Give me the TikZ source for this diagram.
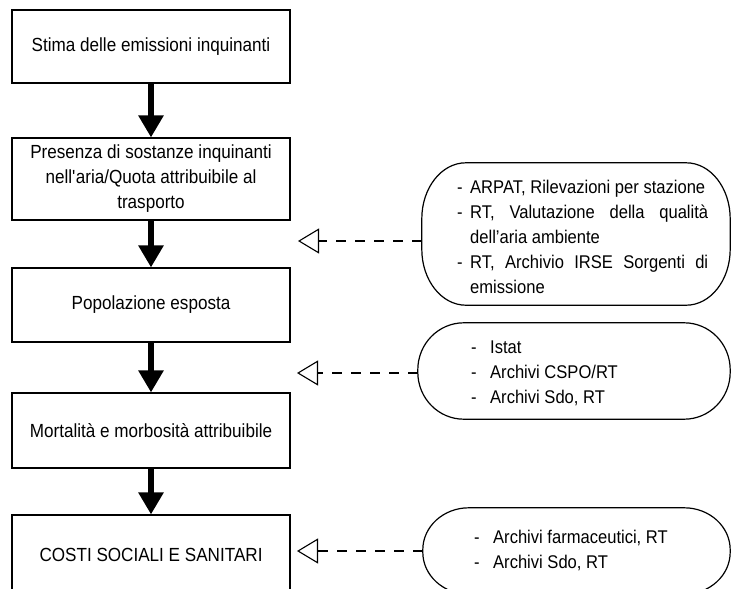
\documentclass[tikz,border=0pt]{standalone}
\usepackage{fontspec}
\setmainfont{Liberation Sans}[FakeStretch=0.9]
\usetikzlibrary{arrows.meta}
\newcommand{\drawbubble}[3]{%
  \draw[bubbleline] ([xshift=#2]#1.north west) -- ([xshift=-#2]#1.north east)
    arc[start angle=90,end angle=0,x radius=#2,y radius=#3]
    -- ([yshift=#3]#1.south east)
    arc[start angle=0,end angle=-90,x radius=#2,y radius=#3]
    -- ([xshift=#2]#1.south west)
    arc[start angle=270,end angle=180,x radius=#2,y radius=#3]
    -- ([yshift=-#3]#1.north west)
    arc[start angle=180,end angle=90,x radius=#2,y radius=#3] -- cycle;}
\newcommand{\bitemA}[1]{\makebox[13pt][l]{-}#1}
\newcommand{\bitemS}[1]{\makebox[13pt][l]{-}\makebox[238pt][s]{#1}}
\newcommand{\bitemC}[1]{\hspace*{13pt}#1}
\newcommand{\bitemB}[1]{\makebox[19pt][l]{-}#1}
\begin{document}
\begin{tikzpicture}[x=1pt,y=1pt,
  flowbox/.style={draw, line width=1.1pt, rectangle, minimum width=278pt, inner sep=0pt,
    align=center, font={\fontsize{19}{25}\selectfont}},
  bubblebox/.style={rectangle, inner sep=0pt},
  bubbleline/.style={line width=1.2pt},
  bubbletext/.style={anchor=west, align=left, inner sep=0pt, font={\fontsize{18.4}{25}\selectfont}},
  bigarrow/.style={line width=6pt, -{Triangle[length=22pt,width=24pt]}},
  dasharrow/.style={line width=1.1pt, dash pattern=on 10pt off 9pt,
    -{Triangle[open,length=21pt,width=25pt,line width=1.1pt]}}]
\useasboundingbox (0,0) rectangle (732,-589);
\clip (0,0) rectangle (732,-589);

% main boxes
\node[flowbox, minimum height=73pt] (n1) at (151,-46.5) {Stima delle emissioni inquinanti};
\node[flowbox, minimum height=82pt] (n2) at (151,-179) {Presenza di sostanze inquinanti\\nell\textquotesingle aria/Quota attribuibile al\\trasporto};
\node[flowbox, minimum height=74pt] (n3) at (151,-305) {Popolazione esposta};
\node[flowbox, minimum height=75pt] (n4) at (151,-430.5) {Mortalità e morbosità attribuibile};
\node[flowbox, minimum height=80pt] (n5) at (151,-555) {COSTI SOCIALI E SANITARI};

\draw[bigarrow] (n1.south) -- (n2.north);
\draw[bigarrow] (n2.south) -- (n3.north);
\draw[bigarrow] (n3.south) -- (n4.north);
\draw[bigarrow] (n4.south) -- (n5.north);

% bubbles
\node[bubblebox, minimum width=308pt, minimum height=142pt] (b1) at (576,-234) {};
\drawbubble{b1}{44pt}{56pt}
\node[bubbletext] (b1t) at (457,-237) {\bitemA{ARPAT, Rilevazioni per stazione}\\
  \bitemS{RT, Valutazione della qualità}\\
  \bitemC{dell’aria ambiente}\\
  \bitemS{RT, Archivio IRSE Sorgenti di}\\
  \bitemC{emissione}};

\node[bubblebox, minimum width=312pt, minimum height=96pt] (b2) at (574,-371) {};
\drawbubble{b2}{46pt}{47pt}
\node[bubbletext] (b2t) at (471,-373) {\bitemB{Istat}\\ \bitemB{Archivi CSPO/RT}\\ \bitemB{Archivi Sdo, RT}};

\node[bubblebox, minimum width=307pt, minimum height=86pt] (b3) at (576.5,-551) {};
\drawbubble{b3}{46pt}{42pt}
\node[bubbletext] (b3t) at (474,-550.5) {\bitemB{Archivi farmaceutici, RT}\\ \bitemB{Archivi Sdo, RT}};

% dashed connectors
\coordinate (t1) at (298,-241);
\coordinate (t2) at (297,-373);
\coordinate (t3) at (297,-551);
\draw[dasharrow] (b1.west |- t1) -- (t1);
\draw[dasharrow] (b2.west |- t2) -- (t2);
\draw[dasharrow] (b3.west |- t3) -- (t3);
\end{tikzpicture}
\end{document}
